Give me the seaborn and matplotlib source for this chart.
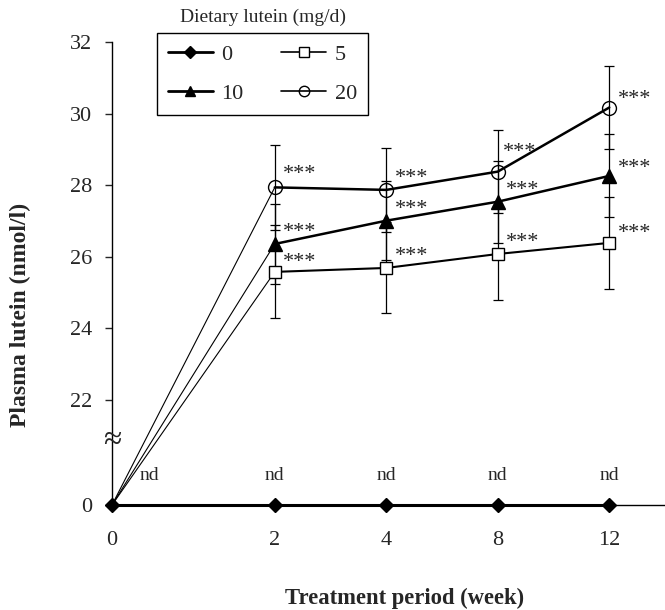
import numpy as np
import matplotlib
matplotlib.use("Agg")
import matplotlib.pyplot as plt
import seaborn as sns
from matplotlib.lines import Line2D

# ---------------- data ----------------
weeks = [0, 2, 4, 8, 12]
week_labels = ["0", "2", "4", "8", "12"]
dose_labels = ["0", "5", "10", "20"]
lutein_0 = [0, 0, 0, 0, 0]
lutein_5 = [0, 25.58, 25.69, 26.08, 26.39]
lutein_10 = [0, 26.36, 27.01, 27.54, 28.26]
lutein_20 = [0, 27.94, 27.87, 28.38, 30.17]
sd_5 = [0, 1.30, 1.27, 1.28, 1.28]
sd_10 = [0, 1.11, 1.10, 1.15, 1.16]
sd_20 = [0, 1.18, 1.18, 1.16, 1.16]
sig_labels = ["", "***", "***", "***", "***"]
nd_labels = ["nd", "nd", "nd", "nd", "nd"]
yticks = [0, 22, 24, 26, 28, 30, 32]
ytick_labels = ["0", "22", "24", "26", "28", "30", "32"]

# ---------------- style ----------------
sns.set_style("ticks")
plt.rcParams["font.family"] = ["Liberation Serif", "DejaVu Serif"]

fig = plt.figure(figsize=(6.65, 6.10), dpi=100)
ax = fig.add_axes([112 / 665, 1 - 505 / 610, 553 / 665, 463 / 610])

# broken / uneven axes through matplotlib function scales
wk_pts = [0, 2, 4, 8, 12, 20]
wk_pos = [0, 1.46, 2.46, 3.46, 4.46, 6.46]
y_pts = [-10, 0, 20, 100]
y_pos = [18.6, 19.07, 20.0, 100.0]


def xf(w):
    return np.interp(w, wk_pts, wk_pos)


def xi(p):
    return np.interp(p, wk_pos, wk_pts)


def yf(v):
    return np.interp(v, y_pts, y_pos)


def yi(p):
    return np.interp(p, y_pos, y_pts)


series = [
    # values, sd, marker, face, thick-lw, ms, sig-offsets (points)
    (lutein_5, sd_5, "s", "white", 1.5, 9, [(6, 7), (6, 8), (6, 8), (6, 7)]),
    (lutein_10, sd_10, "^", "black", 1.8, 9.5, [(6, 8), (6, 8), (6, 8), (6, 5)]),
    (lutein_20, sd_20, "o", "none", 1.8, 10, [(6, 9), (6, 8), (4, 14), (6, 5.5)]),
]

for vals, sd, mk, fc, lw, ms, offs in series:
    # thin rise from baseline to week 2
    sns.lineplot(x=weeks[:2], y=vals[:2], ax=ax, color="black", lw=0.8,
                 estimator=None, sort=False, zorder=3, clip_on=False)
    # error bars
    ax.errorbar(weeks[1:], vals[1:], yerr=sd[1:], fmt="none", ecolor="black",
                elinewidth=0.9, capsize=3.3, capthick=0.9, zorder=2)
    # treatment course
    sns.lineplot(x=weeks[1:], y=vals[1:], ax=ax, color="black", lw=lw,
                 marker=mk, ms=ms, mfc=fc, mec="black", mew=1.0,
                 estimator=None, sort=False, zorder=5)
    for w, v, s, o in zip(weeks[1:], vals[1:], sig_labels[1:], offs):
        ax.annotate(s, xy=(w, v), xytext=o, textcoords="offset points",
                    ha="left", va="center", fontsize=16, zorder=6)

# zero (control) series
sns.lineplot(x=weeks, y=lutein_0, ax=ax, color="black", lw=2.2, marker="D",
             ms=7.5, mfc="black", mec="black", mew=1.0, estimator=None,
             sort=False, zorder=7, clip_on=False)
for i, (w, v, s) in enumerate(zip(weeks, lutein_0, nd_labels)):
    dx = 27 if i == 0 else 0
    ax.annotate(s, xy=(w, v), xytext=(dx, 21.5), textcoords="offset points",
                ha="center", va="center", fontsize=14)

ax.set_xscale("function", functions=(xf, xi))
ax.set_yscale("function", functions=(yf, yi))
ax.set_xlim(0, 14)
ax.set_ylim(0, 32)

ax.set_xticks(weeks)
ax.set_xticklabels(week_labels)
ax.set_yticks(yticks)
ax.set_yticklabels(ytick_labels)
ax.minorticks_off()
ax.tick_params(axis="x", length=0, pad=19, labelsize=16)
ax.tick_params(axis="y", length=5, width=1, pad=9, labelsize=16, direction="out")

for side in ["top", "right"]:
    ax.spines[side].set_visible(False)
for side in ["left", "bottom"]:
    ax.spines[side].set_linewidth(1.0)
    ax.spines[side].set_color("black")

# axis-break mark
ax.text(0, (505 - 441) / 463, "≈", transform=ax.transAxes, ha="center",
        va="center", fontsize=24, zorder=8)

ax.set_xlabel("Treatment period (week)", fontsize=16.3, fontweight="bold")
ax.set_ylabel("Plasma lutein (nmol/l)", fontsize=17, fontweight="bold")
ax.xaxis.label.set_va("center")
ax.yaxis.label.set_va("center")
ax.xaxis.set_label_coords((405 - 112) / 553, (505 - 598) / 463)
ax.yaxis.set_label_coords((20 - 112) / 553, (505 - 315) / 463)

# legend (column-major order: 0, 10 | 5, 20)
h0 = Line2D([], [], color="black", lw=2.0, marker="D", ms=6, mfc="black", mec="black")
h5 = Line2D([], [], color="black", lw=1.2, marker="s", ms=7, mfc="white", mec="black")
h10 = Line2D([], [], color="black", lw=2.0, marker="^", ms=7.5, mfc="black", mec="black")
h20 = Line2D([], [], color="black", lw=1.2, marker="o", ms=7.5, mfc="none", mec="black")
leg = ax.legend([h0, h10, h5, h20],
                [dose_labels[0], dose_labels[2], dose_labels[1], dose_labels[3]],
                ncol=2, loc="upper left",
                bbox_to_anchor=(157 / 665, 1 - 33 / 610),
                bbox_transform=fig.transFigure, borderaxespad=0,
                fontsize=16, frameon=True, fancybox=False, shadow=False,
                handlelength=2.0, handletextpad=0.4, columnspacing=1.7,
                borderpad=0.5, labelspacing=0.85)
leg.get_frame().set_edgecolor("black")
leg.get_frame().set_linewidth(1.0)
leg.get_frame().set_facecolor("white")
leg.get_frame().set_alpha(1)

fig.text(263 / 665, 1 - 17 / 610, "Dietary lutein (mg/d)", ha="center",
         va="center", fontsize=14)

fig.savefig("out.png", dpi=100)
